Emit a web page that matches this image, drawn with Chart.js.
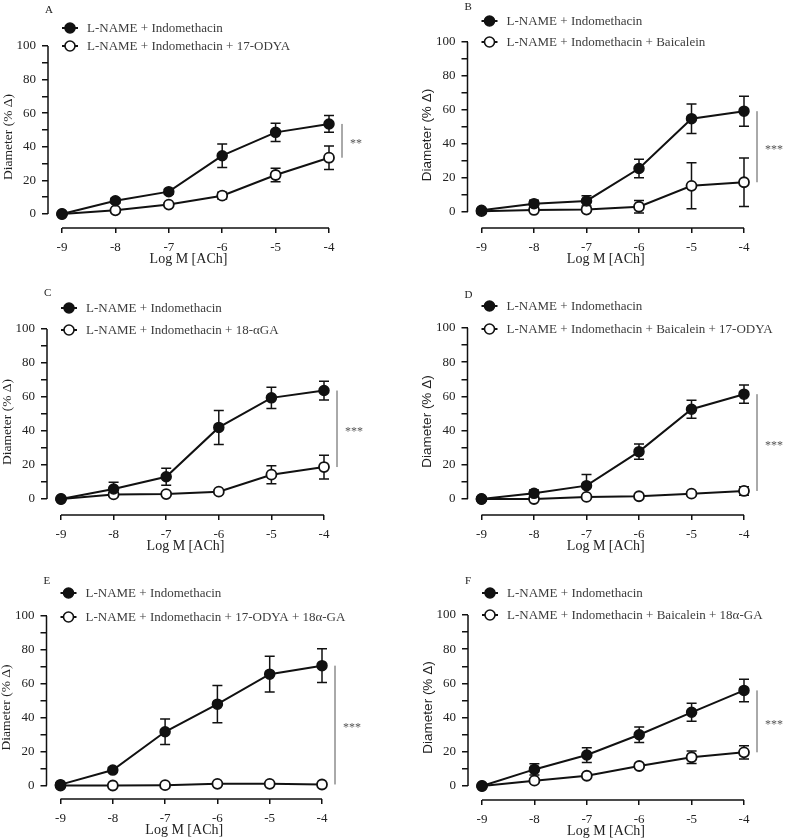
<!DOCTYPE html>
<html>
<head>
<meta charset="utf-8">
<script src="https://cdn.jsdelivr.net/npm/chart.js@4.4.1/dist/chart.umd.min.js"></script>
<style>
  html, body { margin: 0; padding: 0; background: #fff; }
  #wrap { position: relative; width: 787px; height: 840px; overflow: hidden; }
  .panel { position: absolute; }
</style>
</head>
<body>
<div id="wrap"></div>
<script>
// --- data ---
const doses = [-9, -8, -7, -6, -5, -4];
const xTickValues = [-9, -8, -7, -6, -5, -4];
const yTickValues = [0, 10, 20, 30, 40, 50, 60, 70, 80, 90, 100];
const controlLabel = "L-NAME + Indomethacin";
const panelLetters = ["A", "B", "C", "D", "E", "F"];
const treatmentLabels = [
  "L-NAME + Indomethacin + 17-ODYA",
  "L-NAME + Indomethacin + Baicalein",
  "L-NAME + Indomethacin + 18-\u03b1GA",
  "L-NAME + Indomethacin + Baicalein + 17-ODYA",
  "L-NAME + Indomethacin + 17-ODYA + 18\u03b1-GA",
  "L-NAME + Indomethacin + Baicalein + 18\u03b1-GA"
];
const significance = ["**", "***", "***", "***", "***", "***"];

const controlA = [0, 7.9, 13.3, 34.7, 48.6, 53.6];
const controlErrA = [0, 1.5, 1.5, 7, 5.4, 5];
const treatA = [0, 2.2, 5.6, 10.9, 23.2, 33.5];
const treatErrA = [0, 0.8, 1, 2, 4, 7];

const controlB = [1, 4.9, 6.5, 25.6, 54.9, 59.3];
const controlErrB = [0.5, 2, 3, 5.5, 8.7, 8.8];
const treatB = [0.5, 1.2, 1.4, 3.1, 15.4, 17.5];
const treatErrB = [0.3, 0.8, 0.8, 3.7, 13.5, 14.2];

const controlC = [0, 5.9, 13.1, 42.1, 59.5, 63.8];
const controlErrC = [0, 3.9, 5, 10, 6.3, 5.5];
const treatC = [0, 2.7, 2.9, 4.3, 14.3, 18.8];
const treatErrC = [0, 1, 1, 1, 5.3, 7];

const controlD = [0, 3.3, 7.8, 27.7, 52.5, 61.3];
const controlErrD = [0, 2, 6.5, 4.5, 5.3, 5.3];
const treatD = [0, 0, 1.2, 1.6, 3.1, 4.7];
const treatErrD = [0, 0.5, 0.5, 0.5, 1, 2.5];

const controlE = [0.5, 9.1, 31.7, 48, 65.7, 70.7];
const controlErrE = [0.5, 1.5, 7.5, 11, 10.6, 10];
const treatE = [0, 0, 0.2, 1, 1, 0.6];
const treatErrE = [0, 0.3, 0.5, 0.5, 0.5, 0.5];

const controlF = [0, 9.7, 18.1, 30, 43.1, 55.9];
const controlErrF = [0, 3.3, 4.3, 4.5, 5.3, 6.6];
const treatF = [0, 3.1, 6, 11.7, 16.8, 19.7];
const treatErrF = [0, 1, 1, 1.5, 3.7, 3.9];

const controlMeans = [controlA, controlB, controlC, controlD, controlE, controlF];
const controlErrs = [controlErrA, controlErrB, controlErrC, controlErrD, controlErrE, controlErrF];
const treatMeans = [treatA, treatB, treatC, treatD, treatE, treatF];
const treatErrs = [treatErrA, treatErrB, treatErrC, treatErrD, treatErrE, treatErrF];

// --- page geometry of each panel (page pixels) ---
const SERIF = "'Liberation Serif', 'Times New Roman', serif";
const SANS = "'Liberation Sans', Arial, sans-serif";
const frames = [
  { left: 0,   top: 0,   x9: 62,    x4: 329, y100: 46,  y0: 214,   axisLine: 228, legendY: [28, 46],   letterY: 10,  yTitleFont: SERIF },
  { left: 394, top: 0,   x9: 481.5, x4: 744, y100: 42,  y0: 212,   axisLine: 228, legendY: [21, 42],   letterY: 7,   yTitleFont: SANS },
  { left: 0,   top: 280, x9: 61,    x4: 324, y100: 329, y0: 499,   axisLine: 515, legendY: [308, 330], letterY: 293, yTitleFont: SERIF },
  { left: 394, top: 280, x9: 481.5, x4: 744, y100: 328, y0: 499,   axisLine: 515, legendY: [306, 329], letterY: 295, yTitleFont: SANS },
  { left: 0,   top: 560, x9: 60.5,  x4: 322, y100: 616, y0: 785.5, axisLine: 799, legendY: [593, 617], letterY: 581, yTitleFont: SERIF },
  { left: 394, top: 560, x9: 482,   x4: 744, y100: 615, y0: 786,   axisLine: 800, legendY: [593, 615], letterY: 581, yTitleFont: SANS }
];
const W = 393, H = 280;
const Y_AXIS_W = 48, X_AXIS_H = 40;
const INK = "#111";

Chart.defaults.font.family = SERIF;
Chart.defaults.color = "#222";

function overlay(i, frame) {
  const errs = [controlErrs[i], treatErrs[i]];
  return {
    id: "overlay" + i,
    beforeDatasetsDraw(chart) {
      const { ctx } = chart;
      const xs = chart.scales.x, ys = chart.scales.y;
      ctx.save();
      ctx.strokeStyle = INK;
      ctx.lineWidth = 1.5;
      // axis lines, Prism style (offset, only over the data range)
      ctx.beginPath();
      ctx.moveTo(xs.left, ys.getPixelForValue(0));
      ctx.lineTo(xs.left, ys.getPixelForValue(100));
      ctx.moveTo(xs.getPixelForValue(doses[0]), ys.bottom);
      ctx.lineTo(xs.getPixelForValue(doses[doses.length - 1]), ys.bottom);
      ctx.stroke();
      // error bars
      chart.data.datasets.forEach((ds, d) => {
        ds.data.forEach((p, k) => {
          const e = errs[d][k];
          if (!e) return;
          const px = xs.getPixelForValue(p.x);
          const top = ys.getPixelForValue(p.y + e);
          const bot = ys.getPixelForValue(p.y - e);
          ctx.beginPath();
          ctx.moveTo(px, top); ctx.lineTo(px, bot);
          ctx.moveTo(px - 5, top); ctx.lineTo(px + 5, top);
          ctx.moveTo(px - 5, bot); ctx.lineTo(px + 5, bot);
          ctx.stroke();
        });
      });
      ctx.restore();
    },
    afterDraw(chart) {
      const { ctx } = chart;
      const xs = chart.scales.x, ys = chart.scales.y;
      ctx.save();
      // panel letter
      ctx.fillStyle = "#222";
      ctx.font = "11px " + SERIF;
      ctx.textAlign = "left";
      ctx.textBaseline = "middle";
      ctx.fillText(panelLetters[i], xs.left - 3, frame.letterY - frame.top);
      // legend
      const lx = xs.getPixelForValue(doses[0]);
      chart.data.datasets.forEach((ds, d) => {
        const ly = frame.legendY[d] - frame.top;
        ctx.strokeStyle = INK;
        ctx.lineWidth = 2;
        ctx.beginPath();
        ctx.moveTo(lx, ly); ctx.lineTo(lx + 16, ly);
        ctx.stroke();
        ctx.beginPath();
        ctx.arc(lx + 8, ly, 5, 0, Math.PI * 2);
        ctx.fillStyle = ds.pointBackgroundColor;
        ctx.fill();
        ctx.lineWidth = 1.6;
        ctx.stroke();
        ctx.fillStyle = "#3c3c3c";
        ctx.font = "13px " + SERIF;
        ctx.fillText(ds.label, lx + 25, ly + 0.5);
      });
      // significance bracket between the two top-dose means
      const last = doses.length - 1;
      const bx = xs.getPixelForValue(doses[last]) + 13;
      const b1 = ys.getPixelForValue(chart.data.datasets[0].data[last].y);
      const b2 = ys.getPixelForValue(chart.data.datasets[1].data[last].y);
      ctx.strokeStyle = "#555";
      ctx.lineWidth = 1;
      ctx.beginPath();
      ctx.moveTo(bx, b1); ctx.lineTo(bx, b2);
      ctx.stroke();
      ctx.fillStyle = "#555";
      ctx.font = "12px " + SERIF;
      ctx.fillText(significance[i], bx + 8, (b1 + b2) / 2 + 3);
      ctx.restore();
    }
  };
}

function buildPanel(i) {
  const f = frames[i];
  const axisX = f.x9 - 14;
  const pxPerDose = (f.x4 - f.x9) / (doses[doses.length - 1] - doses[0]);
  const pxPerPct = (f.y0 - f.y100) / 100;
  const xMin = doses[0] - (f.x9 - axisX) / pxPerDose;
  const yMin = -(f.axisLine - f.y0) / pxPerPct;

  const box = document.createElement("div");
  box.className = "panel";
  box.style.left = f.left + "px";
  box.style.top = f.top + "px";
  const canvas = document.createElement("canvas");
  canvas.width = W;
  canvas.height = H;
  box.appendChild(canvas);
  document.getElementById("wrap").appendChild(box);

  const grid = { display: true, drawOnChartArea: false, drawTicks: true, color: INK, lineWidth: 1.5 };

  new Chart(canvas, {
    type: "line",
    data: {
      datasets: [
        {
          label: controlLabel,
          data: doses.map((d, k) => ({ x: d, y: controlMeans[i][k] })),
          borderColor: INK, backgroundColor: INK,
          pointBackgroundColor: INK, pointBorderColor: INK,
          pointRadius: 5, pointBorderWidth: 1.5, borderWidth: 2, tension: 0, clip: false
        },
        {
          label: treatmentLabels[i],
          data: doses.map((d, k) => ({ x: d, y: treatMeans[i][k] })),
          borderColor: INK, backgroundColor: "#fff",
          pointBackgroundColor: "#fff", pointBorderColor: INK,
          pointRadius: 5, pointBorderWidth: 1.8, borderWidth: 2, tension: 0, clip: false
        }
      ]
    },
    options: {
      responsive: false,
      animation: false,
      events: [],
      layout: {
        padding: {
          left: axisX - f.left - Y_AXIS_W,
          right: f.left + W - f.x4,
          top: f.y100 - f.top,
          bottom: Math.max(0, f.top + H - f.axisLine - X_AXIS_H)
        }
      },
      plugins: { legend: { display: false }, tooltip: { enabled: false } },
      scales: {
        x: {
          type: "linear",
          min: xMin,
          max: doses[doses.length - 1],
          afterBuildTicks: (s) => { s.ticks = xTickValues.map((v) => ({ value: v })); },
          afterFit: (s) => { s.height = X_AXIS_H; },
          grid: Object.assign({}, grid, { tickLength: 5 }),
          border: { display: false },
          ticks: { padding: 7, autoSkip: false, maxRotation: 0, font: { size: 13 }, callback: (v) => String(v) },
          title: { display: true, text: "Log M [ACh]", font: { size: 14 }, padding: { top: 0, bottom: 0 } }
        },
        y: {
          type: "linear",
          min: yMin,
          max: 100,
          afterBuildTicks: (s) => { s.ticks = yTickValues.map((v) => ({ value: v })); },
          afterFit: (s) => { s.width = Y_AXIS_W; },
          grid: Object.assign({}, grid, { tickLength: 6 }),
          border: { display: false },
          ticks: { padding: 6, autoSkip: false, font: { size: 13 }, callback: (v) => (v % 20 === 0 ? String(v) : "") },
          title: {
            display: true, text: "Diameter (% \u0394)",
            font: { size: 13.5, family: f.yTitleFont },
            padding: { top: 0, bottom: 0 }
          }
        }
      }
    },
    plugins: [overlay(i, f)]
  });
}

panelLetters.forEach((_, i) => buildPanel(i));
</script>
</body>
</html>
